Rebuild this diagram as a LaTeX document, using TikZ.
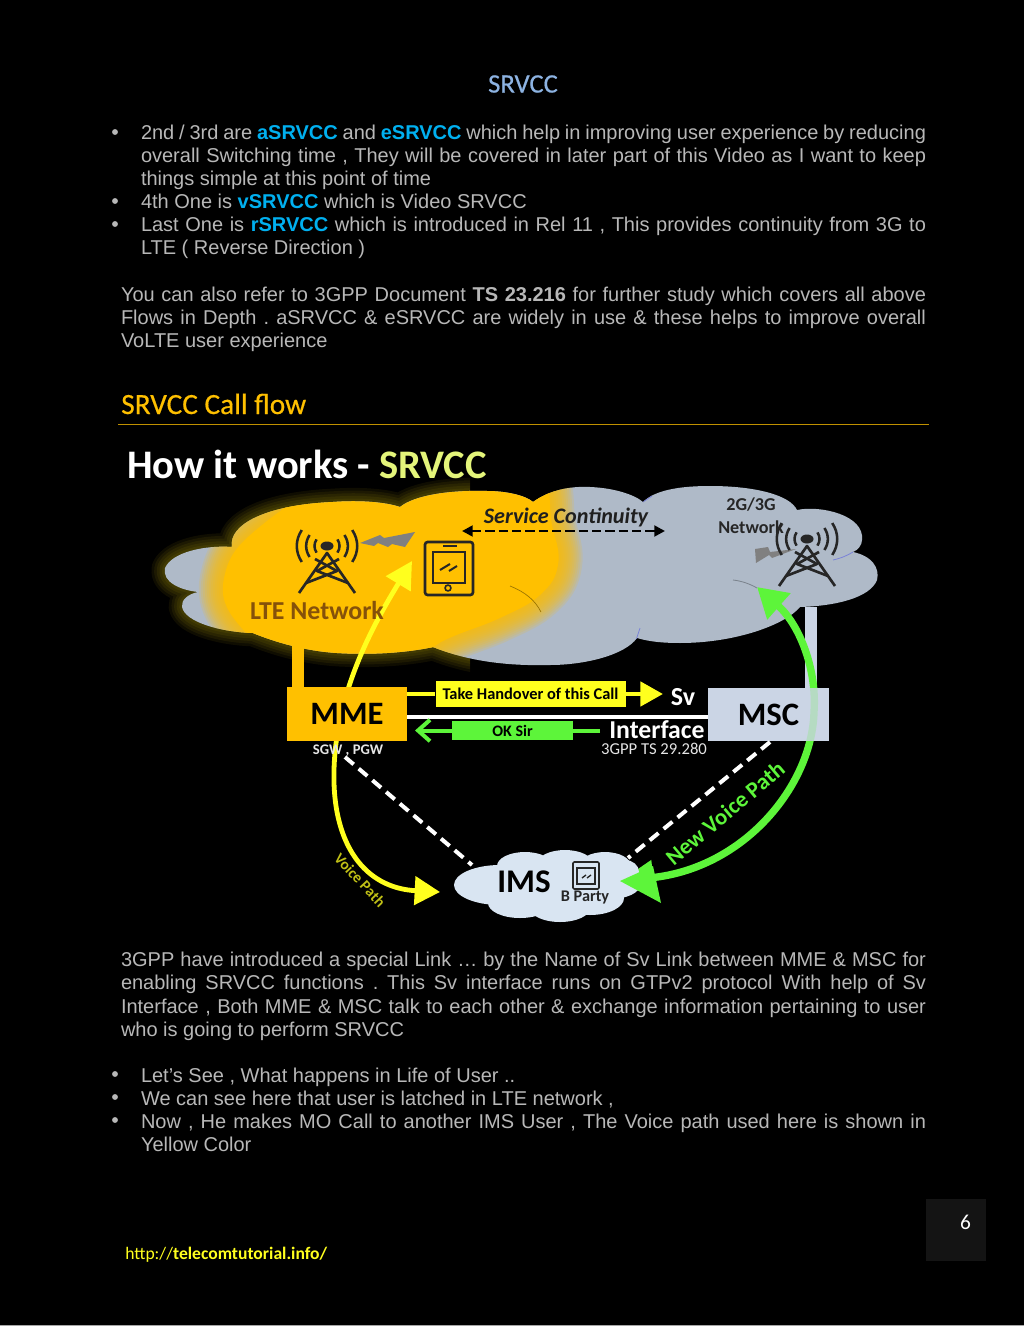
\documentclass[tikz,border=0pt]{standalone}
\usepackage{fontspec}
\setmainfont{Liberation Sans}
\newfontfamily\calf{Carlito}
\newfontfamily\calfb[FakeBold=0.5]{Carlito}
\usetikzlibrary{arrows.meta,shapes.geometric}
\definecolor{bodyc}{HTML}{B8B8B8}
\definecolor{hib}{HTML}{00B0F0}
\definecolor{orng}{HTML}{FFC000}
\definecolor{cloudg}{HTML}{AFBAC8}
\definecolor{imsc}{HTML}{D9E5F2}
\definecolor{mscc}{HTML}{CBD5E5}
\definecolor{grn}{HTML}{5DF53A}
\definecolor{ylw}{HTML}{FFFF1E}
\definecolor{drk}{HTML}{262626}
\definecolor{ltec}{HTML}{85510A}
\newcommand{\hb}[1]{\textbf{\textcolor{hib}{#1}}}
\newcommand{\jl}[2]{\node[txt] at (141,#1) {\makebox[588.75pt][s]{#2}};}
\newcommand{\jm}[2]{\node[txt] at (121,#1) {\makebox[603.75pt][s]{#2}};}
\newcommand{\pl}[2]{\node[txt] at (141,#1) {#2};}
\newcommand{\bul}[1]{\fill[bodyc] (115,#1) circle (2.2pt);}
\newcommand{\towerpic}[3]{%
 \begin{scope}[shift={(#1,#2)},draw=#3,line width=2pt,line join=round]
  \fill[#3] (0,0) ellipse (6.5 and 4.5);
  \draw (-28,47) -- (0,7) -- (28,47);
  \draw (-21,37) -- (10,25) -- (-12,13);
  \draw (21,37) -- (-10,25) -- (12,13);
  \foreach \r in {12,20,29}{
   \draw[line width=1.9pt] (-\r*.87,-\r*.55) .. controls (-\r*1.1,-\r*.2) and (-\r*1.1,\r*.2) .. (-\r*.87,\r*.55);
   \draw[line width=1.9pt] (\r*.87,-\r*.55) .. controls (\r*1.1,-\r*.2) and (\r*1.1,\r*.2) .. (\r*.87,\r*.55);
  }
 \end{scope}}
\def\cloudpath{(165,568) .. controls (172,552) and (205,545) .. (232,547)
 .. controls (228,525) and (265,505) .. (333,502) .. controls (360,500) and (385,502) .. (400,507)
 .. controls (415,495) and (450,490) .. (487,491) .. controls (505,491) and (525,495) .. (533,502)
 .. controls (550,490) and (570,486) .. (590,487) .. controls (615,488) and (635,495) .. (643,502)
 .. controls (655,490) and (680,486) .. (710,486) .. controls (755,486) and (790,495) .. (797,510)
 .. controls (820,505) and (865,515) .. (862,540) .. controls (862,545) and (858,550) .. (853,552)
 .. controls (872,556) and (880,568) .. (877,580) .. controls (870,598) and (835,606) .. (800,607)
 .. controls (785,625) and (735,643) .. (680,643) .. controls (665,643) and (650,642) .. (637,638)
 .. controls (625,655) and (585,665) .. (550,665) .. controls (510,666) and (470,662) .. (433,647)
 .. controls (405,653) and (370,655) .. (337,653) .. controls (305,651) and (275,642) .. (253,633)
 .. controls (220,632) and (185,622) .. (182,607) .. controls (181,600) and (188,594) .. (198,592)
 .. controls (180,590) and (162,582) .. (165,568) -- cycle}
\def\blobpath{plot[smooth cycle,tension=.7] coordinates {(226,570)(262,525)(330,485)(400,475)(450,465)(535,468)(552,525)(558,565)(540,595)(500,618)(445,640)(400,665)(300,665)(235,620)}}
\tikzset{
 x=.75pt,y=-.75pt,
 txt/.style={anchor=base west,inner sep=0,outer sep=0,text=bodyc,font=\fontsize{15}{18}\selectfont},
 cb/.style={inner sep=0,outer sep=0,font=\calf\bfseries},
 ybox/.style={fill=ylw,inner sep=0,minimum width=142.5pt,minimum height=19.5pt,text=black,font=\calf\bfseries\fontsize{12.3}{14}\selectfont},
 gbox/.style={fill=grn,inner sep=0,minimum width=90.75pt,minimum height=14.25pt,text=black,font=\calf\bfseries\fontsize{12}{14}\selectfont},
 dsh/.style={draw=white,line width=3pt,dash pattern=on 8.5pt off 5pt},
 ylwline/.style={draw=ylw,line width=3.6pt},
 grnline/.style={draw=grn,line width=5.5pt}
}
\frenchspacing
\begin{document}
\begin{tikzpicture}
\useasboundingbox (0,0) rectangle (1024,1326);
\fill[black] (0,0) rectangle (1024,1326);
\fill[gray!70] (0,1325) rectangle (1024,1326);
% header text
\node[cb,font=\calfb\fontsize{20}{24}\selectfont,text=black] (hd) at (523,84) {\textcolor[HTML]{8DB3E2}{SRVCC}};
\bul{132}\bul{201}\bul{224}
\jl{140}{2nd / 3rd are \hb{aSRVCC} and \hb{eSRVCC} which help in improving user experience by reducing}
\jl{163}{overall Switching time , They will be covered in later part of this Video as I want to keep}
\pl{186}{things simple at this point of time}
\pl{209}{4th One is \hb{vSRVCC} which is Video SRVCC}
\jl{232}{Last One is \hb{rSRVCC} which is introduced in Rel 11 , This provides continuity from 3G to}
\pl{255}{LTE ( Reverse Direction )}
\jm{302}{You can also refer to 3GPP Document \textbf{TS 23.216} for further study which covers all above}
\jm{325}{Flows in Depth . aSRVCC \& eSRVCC are widely in use \& these helps to improve overall}
\node[txt] at (121,348) {VoLTE user experience};
\node[anchor=base west,inner sep=0,text=orng,font=\calfb\fontsize{22}{26}\selectfont] (cf) at (121,414) {SRVCC Call flow};
\fill[orng!75!black] (118,423.5) rectangle (929,424.5);
% diagram title
\node[anchor=base west,inner sep=0,font=\calf\bfseries\fontsize{30.4}{34}\selectfont,text=white] (ttl) at (127,478) {How it works - \textcolor[HTML]{E4F57A}{SRVCC}};
% glow
\begin{scope}
 \clip (120,470) rectangle (470,690);
 \foreach \w in {20,16,12,8,4}{\draw[ylw!60!orng,opacity=.06,line width=\w pt,line join=round] \cloudpath;}
\end{scope}
\fill[cloudg] \cloudpath;
\begin{scope}
 \clip \cloudpath;
 \foreach \w in {36,33,30,27,24,21,18,15,12,9,6,3}{\draw[orng,opacity=.14,line width=\w pt,line join=round] \blobpath;}
 \fill[orng] \blobpath;
 \draw[cloudg!70!black,line width=.6pt] (733,580) .. controls (742,581) and (750,584) .. (757,588);
 \draw[cloudg!70!blue,line width=.6pt] (636,640) -- (640,628);
 \draw[cloudg!70!blue,line width=.6pt] (833,560) .. controls (842,558) and (848,555) .. (853,552);
 \draw[cloudg!70!blue,line width=.6pt] (643,502) -- (652,496);
 \draw[orng!60!black,line width=.5pt] (510,586) .. controls (525,592) and (535,600) .. (541,612);
\end{scope}
% stems
\fill[orng] (292,640) rectangle (304,690);
\fill[mscc] (805,607) rectangle (817,690);
\fill[mscc] (708,688) rectangle (829,741);
% voice path yellow
\coordinate (ytop) at (412,561);
\coordinate (ybot) at (440,892);
\draw[ylwline,{Triangle[length=20pt,width=21pt,fill=ylw]}-{Triangle[length=19pt,width=21pt,fill=ylw]}] (ytop) .. controls (375,622) and (336,690) .. (334,770) .. controls (332,845) and (365,888) .. (ybot);
% green path
\coordinate (gtop) at (757,587);
\coordinate (gbot) at (620,881);
\draw[grnline,{Triangle[length=22pt,width=25pt,fill=grn]}-{Triangle[length=25pt,width=25pt,fill=grn]}] (gtop) .. controls (800,625) and (817,670) .. (814,712) .. controls (812,785) and (745,868) .. (gbot);
% towers, phones
\fill[gray] (360,543) -- (380,535) -- (384,538) -- (415,532) -- (405,547) -- (392,544) -- (388,547) -- (378,543) -- (374,546) -- cycle;
\fill[gray] (755,549) -- (768,547) -- (770,552) -- (796,549) -- (772,558) -- (769,555) -- (756,563) -- cycle;
\towerpic{327}{546}{drk}
\towerpic{807}{539}{drk}
\draw[drk,line width=2pt,rounded corners=2pt] (425,542) rectangle (473,595);
\draw[drk,line width=1.7pt] (433,552) rectangle (465,583);
\draw[drk,line width=1.3pt] (443,546) -- (457,546);
\draw[drk,line width=1.2pt] (448,588) circle (2.2pt);
\draw[drk,line width=1.5pt] (440,570) -- (450,564) (449,571) -- (457,566);
% labels on clouds
\node[cb,text=black!88,font=\calf\bfseries\itshape\fontsize{16.6}{20}\selectfont] (sc) at (566,517) {Service Continuity};
\coordinate (scl) at (462,531);
\coordinate (scr) at (665,531);
\draw[black,line width=2pt,dash pattern=on 7pt off 3pt,{Triangle[length=8pt,width=8pt]}-{Triangle[length=8pt,width=8pt]}] (scl) -- (scr);
\node[cb,text=drk,font=\calf\bfseries\fontsize{13.6}{16}\selectfont,align=center] (net) at (751,516) {2G/3G\\[1pt]Network};
\node[cb,text=ltec,font=\calf\bfseries\fontsize{19.4}{23}\selectfont] (lte) at (317,611) {LTE Network};
% boxes
\node[cb,fill=orng,minimum width=90pt,minimum height=40.5pt,text=black,font=\calf\bfseries\fontsize{24.5}{28}\selectfont] (mme) at (347,714) {MME};
\node[cb,fill=mscc,fill opacity=.8,text opacity=1,minimum width=90.75pt,minimum height=39.75pt,text=black,font=\calf\bfseries\fontsize{24.5}{28}\selectfont] (msc) at (768.5,714.5) {MSC};
\coordinate (svl) at (407,717);
\coordinate (svr) at (708,717);
\draw[white,line width=2.5pt] (svl) -- (svr);
% message arrows
\node[ybox] (take) at (530.5,694) {Take Handover of this Call};
\coordinate (yend) at (663,694);
\coordinate (ystart) at (407,694);
\draw[ylwline] (ystart) -- (take);
\draw[ylwline,-{Triangle[length=17pt,width=18pt,fill=ylw]}] (take.east) -- (yend);
\node[gbox] (ok) at (512.5,730.5) {OK Sir};
\coordinate (gend) at (415,730.5);
\coordinate (gstart) at (600,730.5);
\draw[grn,line width=3pt] (gstart) -- (ok.east);
\draw[grn,line width=3pt,-{Straight Barb[length=9pt,width=16pt,line width=3pt]}] (ok.west) -- (gend);
\node[cb,text=white,font=\calf\bfseries\fontsize{19.5}{23}\selectfont] (sv) at (683,697) {Sv};
\node[cb,text=white,font=\calf\bfseries\fontsize{19.3}{22}\selectfont] (iface) at (657,730) {Interface};
\node[cb,text=white!90!black,font=\calf\fontsize{12.5}{15}\selectfont] (ts) at (654,749) {3GPP TS 29.280};
\node[cb,text=white!90!black,font=\calf\bfseries\fontsize{11}{13}\selectfont] (sgw) at (348,751) {SGW , PGW};
% IMS cloud
\fill[imsc] (500,885) ellipse (46 and 20) (525,866) ellipse (28 and 14) (565,864) ellipse (28 and 14) (605,866) ellipse (26 and 14) (590,898) ellipse (34 and 17) (520,903) ellipse (32 and 15) (560,908) ellipse (30 and 14) (610,885) ellipse (30 and 14) (552,885) ellipse (60 and 25);
\fill[imsc] (625,872) ellipse (14 and 12);
\node[cb,text=black,font=\calf\bfseries\fontsize{24.8}{28}\selectfont] (ims) at (524,882) {IMS};
\draw[drk,line width=1.2pt,rounded corners=1pt] (573,862) rectangle (599,889);
\draw[drk,line width=1pt] (577,868) rectangle (595,884);
\draw[drk,line width=1pt] (582,878) -- (586,875) (587,878) -- (591,875);
\node[cb,text=black!85,font=\calf\bfseries\fontsize{12.2}{14}\selectfont] (bp) at (585,897) {B Party};
\coordinate (ysg) at (345,757);
\coordinate (imsw) at (472,865);
\draw[dsh] (ysg) -- (imsw);
\coordinate (mdash) at (770,742);
\coordinate (imsn) at (628,858);
\draw[dsh] (mdash) -- (imsn);
% green head over cloud
\fill[grn] (620,881) -- (653,866) -- (661,903) -- cycle;
\node[cb,rotate=-47,text=ylw!75!black,font=\calf\bfseries\fontsize{11.5}{14}\selectfont] (vp) at (360,880) {Voice Path};
\node[cb,rotate=40,text=grn,font=\calf\bfseries\fontsize{17}{20}\selectfont] (nvp) at (725,813) {New Voice Path};
% lower text
\jm{966}{3GPP have introduced a special Link … by the Name of Sv Link between MME \& MSC for}
\jm{989}{enabling SRVCC functions . This Sv interface runs on GTPv2 protocol With help of Sv}
\jm{1013}{Interface , Both MME \& MSC talk to each other \& exchange information pertaining to user}
\node[txt] at (121,1036) {who is going to perform SRVCC};
\bul{1074}\bul{1097}\bul{1120}
\pl{1082}{Let’s See , What happens in Life of User ..}
\pl{1105}{We can see here that user is latched in LTE network ,}
\jl{1128}{Now , He makes MO Call to another IMS User , The Voice path used here is shown in}
\pl{1151}{Yellow Color}
% footer
\node[anchor=base west,inner sep=0,text=ylw,font=\calf\fontsize{13.2}{16}\selectfont] (url) at (125,1259) {http://\textbf{telecomtutorial.info/}};
\node[fill=black!92!white,minimum width=45pt,minimum height=46.5pt,inner sep=0] (pg) at (956,1230) {};
\node[text=white,font=\calf\fontsize{16}{19}\selectfont,inner sep=0] (pn) at (965.5,1222) {6};
\end{tikzpicture}
\end{document}
